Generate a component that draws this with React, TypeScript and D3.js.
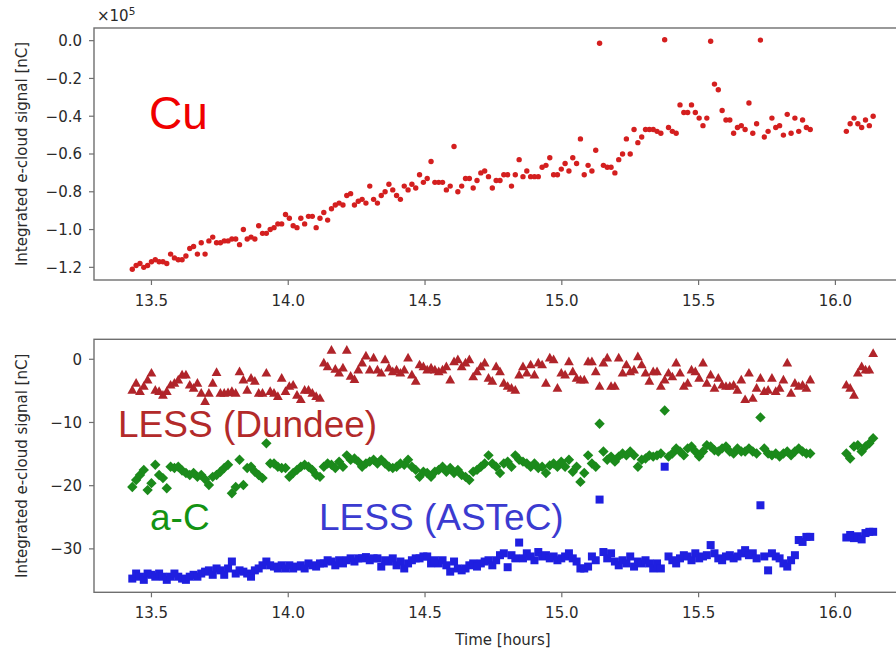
import React from 'react';
import * as d3 from 'd3';

// time of each measurement [hours]
const hours = [
  13.430, 13.444, 13.458, 13.472, 13.486, 13.500, 13.514, 13.528, 13.542, 13.556,
  13.570, 13.584, 13.598, 13.612, 13.626, 13.640, 13.654, 13.668, 13.682, 13.696,
  13.710, 13.724, 13.738, 13.752, 13.766, 13.780, 13.794, 13.808, 13.822, 13.836,
  13.850, 13.864, 13.878, 13.892, 13.906, 13.920, 13.934, 13.948, 13.962, 13.976,
  13.990, 14.004, 14.018, 14.032, 14.046, 14.060, 14.074, 14.088, 14.102, 14.116,
  14.130, 14.144, 14.158, 14.172, 14.186, 14.200, 14.214, 14.228, 14.242, 14.256,
  14.270, 14.284, 14.298, 14.312, 14.326, 14.340, 14.354, 14.368, 14.382, 14.396,
  14.410, 14.424, 14.438, 14.452, 14.466, 14.480, 14.494, 14.508, 14.522, 14.536,
  14.550, 14.564, 14.578, 14.592, 14.606, 14.620, 14.634, 14.648, 14.662, 14.676,
  14.690, 14.704, 14.718, 14.732, 14.746, 14.760, 14.774, 14.788, 14.802, 14.816,
  14.830, 14.844, 14.858, 14.872, 14.886, 14.900, 14.914, 14.928, 14.942, 14.956,
  14.970, 14.984, 14.998, 15.012, 15.026, 15.040, 15.054, 15.068, 15.082, 15.096,
  15.110, 15.124, 15.138, 15.152, 15.166, 15.180, 15.194, 15.208, 15.222, 15.236,
  15.250, 15.264, 15.278, 15.292, 15.306, 15.320, 15.334, 15.348, 15.362, 15.376,
  15.390, 15.404, 15.418, 15.432, 15.446, 15.460, 15.474, 15.488, 15.502, 15.516,
  15.530, 15.544, 15.558, 15.572, 15.586, 15.600, 15.614, 15.628, 15.642, 15.656,
  15.670, 15.684, 15.698, 15.712, 15.726, 15.740, 15.754, 15.768, 15.782, 15.796,
  15.810, 15.824, 15.838, 15.852, 15.866, 15.880, 15.894, 15.908,
  16.040, 16.054, 16.068, 16.082, 16.096, 16.110, 16.124, 16.138,
];

// Cu, in units of 1e5 nC
const cuSignal = [
  -1.21, -1.19, -1.18, -1.20, -1.19, -1.17, -1.16, -1.17, -1.17, -1.18,
  -1.13, -1.15, -1.16, -1.16, -1.14, -1.10, -1.09, -1.13, -1.07, -1.13,
  -1.06, -1.04, -1.07, -1.07, -1.06, -1.06, -1.05, -1.05, -1.08, -1.00,
  -1.05, -1.04, -1.05, -0.98, -1.02, -1.02, -1.00, -0.99, -0.97, -0.97,
  -0.92, -0.94, -0.98, -0.99, -0.94, -0.97, -0.93, -0.93, -0.99, -0.94,
  -0.91, -0.95, -0.89, -0.87, -0.86, -0.87, -0.82, -0.81, -0.87, -0.85,
  -0.84, -0.86, -0.77, -0.84, -0.86, -0.82, -0.80, -0.76, -0.79, -0.82,
  -0.84, -0.77, -0.79, -0.76, -0.78, -0.71, -0.75, -0.73, -0.64, -0.75,
  -0.75, -0.75, -0.79, -0.77, -0.56, -0.80, -0.77, -0.73, -0.73, -0.78,
  -0.74, -0.70, -0.69, -0.72, -0.78, -0.74, -0.74, -0.71, -0.71, -0.77,
  -0.71, -0.63, -0.72, -0.69, -0.72, -0.72, -0.72, -0.67, -0.66, -0.62,
  -0.71, -0.71, -0.68, -0.65, -0.69, -0.62, -0.65, -0.52, -0.71, -0.66,
  -0.69, -0.58, -0.014, -0.66, -0.67, -0.67, -0.70, -0.63, -0.60, -0.52,
  -0.60, -0.47, -0.54, -0.51, -0.47, -0.47, -0.47, -0.48, -0.49, 0.005,
  -0.46, -0.48, -0.49, -0.34, -0.38, -0.38, -0.34, -0.38, -0.41, -0.45,
  -0.41, -0.003, -0.23, -0.26, -0.37, -0.42, -0.42, -0.49, -0.46, -0.45,
  -0.47, -0.33, -0.49, -0.44, 0.003, -0.51, -0.48, -0.41, -0.46, -0.45,
  -0.50, -0.39, -0.49, -0.41, -0.48, -0.42, -0.46, -0.47,
  -0.48, -0.44, -0.41, -0.44, -0.46, -0.42, -0.45, -0.40,
];

// LESS (Dundee) [nC]
const dundeeSignal = [
  -4.9, -3.8, -5.1, -4.3, -3.3, -2.2, -4.9, -5.1, -5.7, -5.1,
  -4.1, -3.8, -3.3, -2.5, -2.5, -4.1, -4.6, -3.8, -5.4, -6.7,
  -5.4, -3.8, -2.1, -5.4, -5.4, -5.3, -5.1, -5.4, -2.0, -3.3,
  -4.9, -3.0, -3.5, -5.4, -5.4, -2.2, -5.1, -5.4, -5.9, -3.0,
  -5.1, -4.3, -4.1, -5.7, -6.4, -4.9, -4.9, -5.4, -5.9, -6.2,
  -0.6, -1.2, 1.4, -1.6, -2.2, -1.4, 1.4, -2.7, -3.2, -1.7,
  -0.6, 0.5, -1.7, 0.2, -1.7, -2.2, -0.1, -1.4, -2.0, -1.7,
  -2.2, -1.7, 0.2, -2.5, -3.5, -0.9, -1.2, -1.7, -1.4, -1.7,
  -2.0, -1.7, -1.2, -3.3, -0.4, -0.1, -1.2, -0.6, -0.1, -2.8,
  -2.0, -1.2, -0.6, -3.0, -3.5, -1.2, -2.0, -3.8, -4.3, -4.6,
  -4.9, -2.5, -1.2, -2.2, -0.9, -2.5, -0.6, -0.9, -3.8, 0.2,
  -0.1, -4.6, -2.2, -2.5, -0.4, -2.0, -3.0, -3.3, -3.3, -0.4,
  -0.4, -2.0, -4.3, -0.6, 0.2, -4.3, -4.3, 0.2, -2.2, -0.9,
  -2.0, -1.7, 0.4, -0.9, -2.2, -3.5, -2.0, -2.0, -4.3, -3.3,
  -2.2, -2.8, -0.6, -2.2, -4.3, -3.8, -1.7, -2.0, -3.0, -0.6,
  -3.8, -2.5, -4.6, -3.0, -4.1, -4.3, -4.3, -4.1, -4.9, -3.3,
  -6.4, -2.2, -6.2, -4.6, -3.0, -5.1, -4.9, -3.0, -5.1, -4.6,
  -3.3, -0.6, -5.4, -3.8, -4.3, -4.1, -4.6, -3.3,
  -4.1, -4.6, -5.7, -2.2, -1.2, -1.7, -1.7, 0.9,
];

// a-C [nC]
const acSignal = [
  -20.2, -19.1, -18.3, -17.5, -20.7, -19.6, -16.7, -18.3, -18.8, -20.4,
  -17.0, -17.2, -17.0, -17.6, -18.0, -18.3, -18.0, -18.6, -18.3, -19.0,
  -19.9, -18.6, -18.3, -17.8, -17.2, -16.7, -21.2, -20.2, -15.9, -19.9,
  -17.2, -17.0, -17.8, -18.3, -18.8, -13.3, -16.5, -16.5, -17.0, -17.2,
  -17.2, -18.6, -18.0, -17.5, -17.0, -16.7, -17.0, -17.5, -18.3, -18.6,
  -17.0, -16.5, -16.7, -17.2, -16.2, -17.0, -15.2, -15.9, -15.7, -16.2,
  -17.0, -16.5, -16.2, -15.9, -16.5, -15.9, -16.5, -17.0, -17.2, -17.0,
  -16.5, -16.7, -15.9, -17.0, -17.5, -18.6, -17.8, -18.0, -18.6, -17.8,
  -17.5, -17.0, -17.8, -17.2, -18.0, -17.5, -18.3, -18.6, -19.1, -17.8,
  -17.5, -17.0, -16.5, -15.2, -16.5, -17.0, -18.0, -16.5, -16.2, -17.0,
  -15.2, -15.9, -16.2, -16.5, -17.0, -16.5, -17.2, -17.0, -18.0, -16.8,
  -16.5, -17.0, -16.2, -17.0, -15.9, -17.8, -17.0, -19.4, -18.0, -15.2,
  -16.5, -17.0, -10.2, -14.6, -15.9, -15.4, -16.2, -15.4, -14.9, -15.2,
  -14.6, -15.2, -17.0, -15.9, -15.7, -15.2, -15.4, -15.2, -14.9, -8.1,
  -15.4, -14.9, -14.1, -14.6, -15.2, -14.1, -13.8, -14.6, -15.4, -14.6,
  -13.6, -13.8, -14.4, -14.6, -14.1, -13.8, -14.6, -14.9, -14.1, -14.6,
  -14.6, -14.1, -14.6, -14.9, -9.2, -14.1, -14.9, -15.2, -14.9, -15.4,
  -14.9, -14.6, -15.2, -14.6, -14.1, -14.6, -14.9, -14.9,
  -14.9, -15.7, -13.8, -13.6, -14.6, -13.8, -13.3, -12.5,
];

// LESS (ASTeC) [nC]
const astecSignal = [
  -34.7, -33.9, -34.4, -34.9, -33.9, -34.1, -34.4, -33.9, -34.4, -34.9,
  -34.4, -33.9, -34.4, -34.7, -34.9, -34.4, -34.1, -34.4, -33.9, -33.6,
  -33.4, -34.1, -33.1, -33.4, -34.1, -33.1, -32.0, -33.9, -33.4, -33.6,
  -33.9, -34.4, -33.4, -33.1, -32.6, -32.0, -32.6, -32.8, -33.1, -32.6,
  -33.1, -32.6, -33.1, -32.8, -32.6, -33.1, -32.3, -32.6, -32.8, -32.3,
  -32.3, -31.8, -32.0, -32.6, -31.8, -32.3, -31.8, -31.5, -32.0, -31.5,
  -31.5, -31.3, -31.8, -31.5, -31.5, -32.8, -31.8, -32.0, -31.5, -32.6,
  -32.0, -33.1, -32.3, -31.8, -31.5, -31.5, -31.2, -31.2, -32.3, -31.8,
  -32.3, -31.8, -32.6, -33.6, -32.0, -33.1, -33.4, -33.1, -32.6, -32.3,
  -32.8, -32.3, -32.0, -31.8, -32.6, -31.8, -31.0, -30.7, -32.9, -31.0,
  -31.5, -29.0, -31.5, -30.7, -31.2, -31.8, -30.5, -31.2, -31.0, -31.5,
  -31.2, -31.8, -31.5, -31.2, -30.7, -31.5, -32.0, -33.1, -33.1, -32.8,
  -31.2, -31.8, -22.2, -30.5, -31.5, -30.7, -32.0, -32.6, -31.8, -32.3,
  -31.2, -32.8, -32.0, -32.3, -31.8, -32.3, -33.1, -32.3, -33.1, -17.0,
  -31.2, -31.8, -32.3, -31.5, -31.0, -31.2, -31.8, -30.7, -31.5, -31.2,
  -31.0, -29.4, -30.7, -31.5, -31.8, -31.2, -31.0, -31.5, -31.2, -30.7,
  -30.2, -31.0, -30.7, -31.5, -23.1, -31.2, -33.4, -30.7, -31.2, -31.5,
  -32.3, -32.8, -31.8, -31.0, -28.6, -28.9, -28.1, -28.1,
  -28.2, -27.8, -28.3, -28.0, -28.5, -27.5, -27.3, -27.3,
];

const timeTicks = [13.5, 14.0, 14.5, 15.0, 15.5, 16.0];
const cuTicks = [0.0, -0.2, -0.4, -0.6, -0.8, -1.0, -1.2];
const lowTicks = [0, -10, -20, -30];

const W = 896;
const H = 651;
const AX_LEFT = 94;
const AX_RIGHT = 912;
const TOP_PANEL = { top: 28, bottom: 280 };
const LOW_PANEL = { top: 339.3, bottom: 592.3 };
const SPINE = '#6f6f6f';
const TEXT = '#2a2a2a';
const TICK_FONT = 'DejaVu Sans, sans-serif';
const NOTE_FONT = 'Liberation Sans, Arial, sans-serif';

const fmt = (v: number, digits: number) =>
  (v < 0 ? '\u2212' : '') + Math.abs(v).toFixed(digits);

// marker shapes, centred on 0,0
const TRI = 'M0,-5.3L4.9,3.4L-4.9,3.4Z';
const DIAMOND = 'M0,-5.2L5.2,0L0,5.2L-5.2,0Z';
const SQ = 8;

function Panel({ y, ticks, digits, box }: any) {
  const x = d3.scaleLinear().domain([13.29, 16.28]).range([AX_LEFT, AX_RIGHT]);
  return (
    <g>
      <rect x={AX_LEFT} y={box.top} width={AX_RIGHT - AX_LEFT} height={box.bottom - box.top}
        fill="none" stroke={SPINE} strokeWidth={1.4} />
      {ticks.map((t: number) => (
        <g key={'y' + t}>
          <line x1={AX_LEFT - 5} x2={AX_LEFT} y1={y(t)} y2={y(t)} stroke={SPINE} strokeWidth={1.2} />
          <text x={AX_LEFT - 12} y={y(t) + 5.4} textAnchor="end" fontSize={15}
            fontFamily={TICK_FONT} fill={TEXT}>{fmt(t, digits)}</text>
        </g>
      ))}
      {timeTicks.map((t) => (
        <g key={'x' + t}>
          <line x1={x(t)} x2={x(t)} y1={box.bottom} y2={box.bottom + 5} stroke={SPINE} strokeWidth={1.2} />
          <text x={x(t)} y={box.bottom + 26} textAnchor="middle" fontSize={15}
            fontFamily={TICK_FONT} fill={TEXT}>{t.toFixed(1)}</text>
        </g>
      ))}
      <text transform={`translate(27,${(box.top + box.bottom) / 2}) rotate(-90)`}
        textAnchor="middle" fontSize={15} fontFamily={TICK_FONT} fill={TEXT}>
        Integrated e-cloud signal [nC]
      </text>
    </g>
  );
}

export default function App() {
  const x = d3.scaleLinear().domain([13.29, 16.28]).range([AX_LEFT, AX_RIGHT]);
  const yCu = d3.scaleLinear().domain([-1.267, 0.067]).range([TOP_PANEL.bottom, TOP_PANEL.top]);
  const yLow = d3.scaleLinear().domain([-36.87, 3.16]).range([LOW_PANEL.bottom, LOW_PANEL.top]);

  return (
    <svg width={W} height={H} viewBox={`0 0 ${W} ${H}`}
      style={{ position: 'absolute', left: 0, top: 0, background: '#fff' }}>
      <rect width={W} height={H} fill="#fff" />

      {/* top panel: Cu */}
      <Panel y={yCu} ticks={cuTicks} digits={1} box={TOP_PANEL} />
      <text x={97} y={21} fontSize={15} fontFamily={TICK_FONT} fill={TEXT}>
        ×10<tspan dy={-6} fontSize={10.5}>5</tspan>
      </text>
      {hours.map((h, i) => (
        <circle key={'cu' + i} cx={x(h)} cy={yCu(cuSignal[i])} r={2.7} fill="#d41f1f" />
      ))}
      <text x={149} y={129} fontSize={46} fontFamily={NOTE_FONT} fill="#f00000">Cu</text>

      {/* bottom panel */}
      <Panel y={yLow} ticks={lowTicks} digits={0} box={LOW_PANEL} />
      {hours.map((h, i) => (
        <path key={'du' + i} d={TRI} transform={`translate(${x(h)},${yLow(dundeeSignal[i])})`} fill="#b0242a" />
      ))}
      {hours.map((h, i) => (
        <path key={'ac' + i} d={DIAMOND} transform={`translate(${x(h)},${yLow(acSignal[i])})`} fill="#1b8a1b" />
      ))}
      {hours.map((h, i) => (
        <rect key={'as' + i} x={x(h) - SQ / 2} y={yLow(astecSignal[i]) - SQ / 2} width={SQ} height={SQ} fill="#1f1fe0" />
      ))}
      <text x={118} y={437} fontSize={37} fontFamily={NOTE_FONT} fill="#b32a2a">LESS (Dundee)</text>
      <text x={150} y={530} fontSize={37} fontFamily={NOTE_FONT} fill="#139313">a-C</text>
      <text x={319} y={530} fontSize={37} fontFamily={NOTE_FONT} fill="#3b3bd0">LESS (ASTeC)</text>

      <text x={503} y={645} textAnchor="middle" fontSize={15} fontFamily={TICK_FONT} fill={TEXT}>
        Time [hours]
      </text>
    </svg>
  );
}
